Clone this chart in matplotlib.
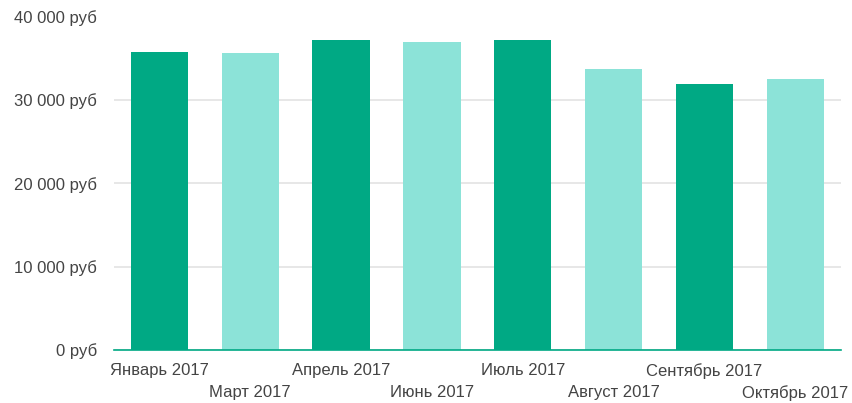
import matplotlib
matplotlib.use("Agg")
import matplotlib.pyplot as plt
from matplotlib.ticker import FuncFormatter

categories = ["Январь 2017", "Март 2017", "Апрель 2017", "Июнь 2017",
              "Июль 2017", "Август 2017", "Сентябрь 2017", "Октябрь 2017"]
values = [35800, 35600, 37200, 37000, 37200, 33700, 31900, 32500]
colors = ["#00a984", "#8ce3d8"] * 4
y_ticks = [0, 10000, 20000, 30000, 40000]

plt.rcParams['font.family'] = ['Liberation Sans', 'DejaVu Sans']

fig = plt.figure(figsize=(8.52, 4.03), dpi=100)
ax = fig.add_axes([114/852, 1-350/403, (840.7-114)/852, (350-16.5)/403])

x = list(range(len(categories)))
ax.bar(x, values, width=0.63, color=colors, zorder=3)
ax.set_xlim(-0.5, len(categories)-0.5)
ax.set_ylim(0, 40000)
ax.set_yticks(y_ticks)

def fmt(v, pos):
    s = f"{int(v):,}".replace(",", " ")
    return f"{s} руб"
ax.yaxis.set_major_formatter(FuncFormatter(fmt))

ax.set_xticks(x)
ax.set_xticklabels(categories)
for side in ["top", "right", "left"]:
    ax.spines[side].set_visible(False)
ax.spines["bottom"].set_color("#00a984")
ax.spines["bottom"].set_linewidth(1.2)
ax.spines["bottom"].set_zorder(4)
ax.grid(axis="y", color="#e0e0e0", linewidth=1.1, zorder=0)
ax.tick_params(axis="both", length=0, labelsize=12, labelcolor="#444444")
ax.tick_params(axis="y", pad=12)
for i, t in enumerate(ax.xaxis.get_major_ticks()):
    t.set_pad(9.5 if i % 2 == 0 else 25.5)

fig.savefig("out.png", dpi=100)
